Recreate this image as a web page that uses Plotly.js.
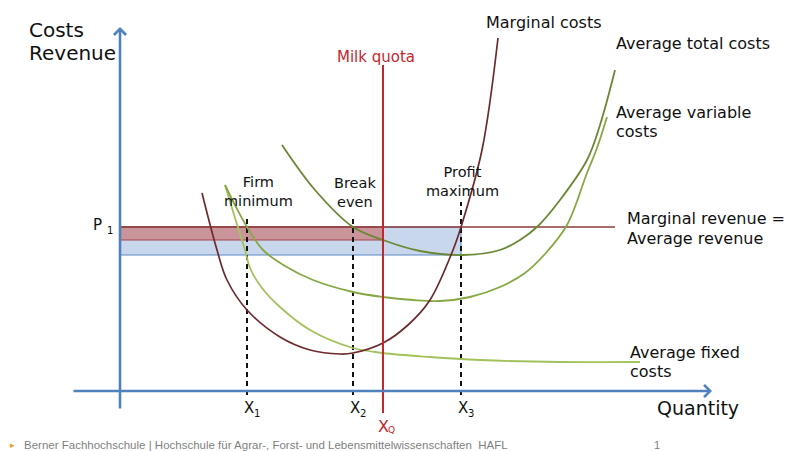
<!DOCTYPE html>
<html>
<head>
<meta charset="utf-8">
<script src="https://cdn.plot.ly/plotly-3.0.1.min.js"></script>
<style>html,body{margin:0;padding:0;background:#fff;}#chart{width:786px;height:451px;}</style>
</head>
<body>
<div id="chart"></div>
<script>
// ---- data (quantity units on x, cost/revenue units on y) ----
const mcX  = [8.2, 9.7, 10.7, 12.7, 16.0, 19.0, 22.0, 23.3, 26.3, 28.8, 31.0, 33.3, 34.1, 36.2, 37.8];
const mcY  = [19.8, 14.1, 11.1, 8.1, 5.4, 4.1, 3.7, 3.8, 4.8, 6.6, 9.1, 14.1, 16.4, 24.1, 35.3];

const atcX = [16.2, 19.5, 23.3, 26.3, 30.0, 34.3, 38.0, 40.0, 41.8, 44.0, 46.7, 48.0, 49.5];
const atcY = [24.6, 20.1, 16.4, 15.1, 14.0, 13.6, 14.1, 15.1, 16.5, 19.1, 23.1, 26.6, 32.1];

const avcX = [10.5, 11.6, 12.7, 14.3, 16.5, 19.3, 23.3, 26.3, 29.3, 32.0, 35.0, 38.0, 40.5, 42.5, 44.7, 46.7, 47.7, 48.7];
const avcY = [20.6, 18.4, 16.4, 14.1, 12.5, 11.1, 9.9, 9.4, 9.1, 9.0, 9.4, 10.4, 11.8, 13.7, 16.6, 21.8, 24.3, 27.4];

const afcX = [10.5, 11.5, 12.5, 13.0, 14.2, 16.0, 19.0, 23.3, 26.3, 31.0, 36.0, 44.0, 52.0];
const afcY = [20.6, 17.3, 14.1, 12.3, 10.3, 8.4, 6.1, 4.3, 3.8, 3.4, 3.1, 2.9, 2.9];

const priceP1    = 16.4;   // marginal revenue = average revenue
const mrEndX     = 49.5;
const quotaX     = 26.3;   // milk quota X_Q
const quotaY     = [-2.2, 32.6];
const atcAtQuota = 15.1;
const atcAtX3    = 13.6;
const xMarks     = [12.7, 23.3, 34.1];        // X1, X2, X3
const xMarkTops  = [17.4, 17.6, 18.9];
const xMarkSubs  = ['1', '2', '3'];
const xMarkNames = ['Firm<br>minimum', 'Break<br>even', 'Profit<br>maximum'];

// ---- traces ----
const traces = [];
const curve = (x, y, color, w) => ({x, y, mode: 'lines', line: {color, width: w, shape: 'spline', smoothing: 1}, hoverinfo: 'skip'});

xMarks.forEach((xv, i) => {
  traces.push({x: [xv, xv], y: [-0.4, xMarkTops[i]], mode: 'lines',
    line: {color: '#111', width: 2, dash: '5px,4px'}, hoverinfo: 'skip'});
});
traces.push({x: [0, mrEndX], y: [priceP1, priceP1], mode: 'lines', line: {color: '#8e3a3a', width: 1.6}, hoverinfo: 'skip'});
traces.push(curve(afcX, afcY, '#a3c25c', 1.8));
traces.push(curve(avcX, avcY, '#86a843', 1.8));
traces.push(curve(atcX, atcY, '#6a8834', 1.8));
traces.push(curve(mcX, mcY, '#6e2a2e', 1.7));
traces.push({x: [quotaX, quotaX], y: quotaY, mode: 'lines', line: {color: '#c3262c', width: 2}, hoverinfo: 'skip'});

// ---- shaded areas ----
const shapes = [
  {type: 'rect', xref: 'x', yref: 'y', x0: 0, x1: xMarks[2], y0: atcAtX3, y1: priceP1,
   fillcolor: '#c9d7ec', line: {color: '#5b86c4', width: 1}, layer: 'below'},
  {type: 'rect', xref: 'x', yref: 'y', x0: 0, x1: quotaX, y0: atcAtQuota, y1: priceP1,
   fillcolor: '#c9959b', line: {color: '#a8434b', width: 1}, layer: 'below'}
];

const F = 'DejaVu Sans, sans-serif';
const A = 'Liberation Sans, Arial, sans-serif';
const ann = (text, x, y, opts = {}) => Object.assign({
  text, x, y, xref: 'x', yref: 'y', showarrow: false, xanchor: 'left', yanchor: 'middle',
  font: {family: F, size: 16, color: '#111'}
}, opts);
const f = (size, color = '#111', family = F) => ({family, size, color});

const annotations = [
  // axes drawn as arrows
  {x: 0, y: 36.4, ax: 0, ay: -1.9, xref: 'x', yref: 'y', axref: 'x', ayref: 'y', text: '',
   showarrow: true, arrowhead: 4, arrowsize: 0.9, arrowwidth: 2.6, arrowcolor: '#4f81bd'},
  {x: 59.2, y: 0, ax: -4.8, ay: 0, xref: 'x', yref: 'y', axref: 'x', ayref: 'y', text: '',
   showarrow: true, arrowhead: 4, arrowsize: 0.9, arrowwidth: 2.6, arrowcolor: '#4f81bd'},
  ann('Costs', -9.3, 36.1, {font: f(20)}),
  ann('Revenue', -9.3, 33.8, {font: f(20)}),
  ann('Quantity', 53.5, -1.7, {font: f(19)}),
  ann('Marginal costs', 36.4, 36.9),
  ann('Average total costs', 49.4, 34.8),
  ann('Average variable', 49.4, 27.9),
  ann('costs', 49.4, 26.0),
  ann('Marginal revenue =', 50.5, 17.3),
  ann('Average revenue', 50.5, 15.3),
  ann('Average fixed', 50.8, 3.9),
  ann('costs', 50.8, 2.0),
  ann('Milk quota', 25.6, 33.4, {xanchor: 'center', font: f(15, '#c3262c')}),
  ann('P', -2.9, priceP1 + 0.2, {font: f(15)}),
  ann('1', -1.5, priceP1 - 0.3, {font: f(10)}),
  ann('X', 25.6, -3.5, {font: f(16, '#c3262c')}),
  ann('Q', 26.6, -3.9, {font: f(9, '#c3262c')})
];
const nameX = [13.8, 23.5, 34.2], nameY = [20.0, 19.85, 21.0];
xMarks.forEach((xv, i) => {
  annotations.push(ann('X', xv - 0.5, -1.7, {font: f(15)}));
  annotations.push(ann(xMarkSubs[i], xv + 0.5, -2.2, {font: f(10)}));
  annotations.push(ann(xMarkNames[i], nameX[i], nameY[i], {xanchor: 'center', font: f(14.5)}));
});
// footer
const fy = 1 - 445 / 451;
annotations.push(
  {text: '▸', x: 8 / 786, y: fy, xref: 'paper', yref: 'paper', showarrow: false,
   xanchor: 'left', yanchor: 'middle', font: f(9, '#e59b2e')},
  {text: 'Berner Fachhochschule | Hochschule für Agrar-, Forst- und Lebensmittelwissenschaften  HAFL',
   x: 22 / 786, y: fy, xref: 'paper', yref: 'paper', showarrow: false,
   xanchor: 'left', yanchor: 'middle', font: f(11.5, '#7f7f7f', A)},
  {text: '1', x: 657 / 786, y: fy, xref: 'paper', yref: 'paper', showarrow: false,
   xanchor: 'center', yanchor: 'middle', font: f(11, '#7f7f7f', A)}
);

const layout = {
  width: 786, height: 451,
  margin: {l: 0, r: 0, t: 0, b: 0},
  paper_bgcolor: '#fff', plot_bgcolor: '#fff',
  showlegend: false,
  xaxis: {range: [-12, 66.6], visible: false, fixedrange: true},
  yaxis: {range: [-6.0, 39.1], visible: false, fixedrange: true},
  shapes, annotations
};

Plotly.newPlot('chart', traces, layout, {displayModeBar: false, staticPlot: true});
</script>
</body>
</html>
